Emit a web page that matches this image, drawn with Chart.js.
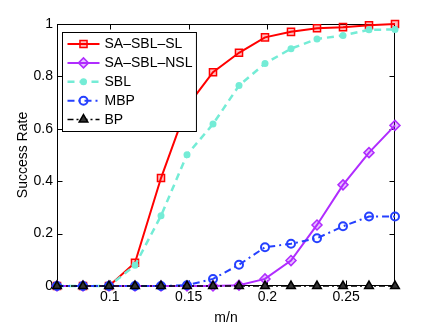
<!DOCTYPE html>
<html>
<head>
<meta charset="utf-8">
<script src="https://cdn.jsdelivr.net/npm/chart.js@4.4.0/dist/chart.umd.min.js"></script>
<style>
  html, body { margin: 0; padding: 0; background: #fff; }
  #wrap { width: 436px; height: 327px; }
</style>
</head>
<body>
<div id="wrap"><canvas id="chart" width="436" height="327"></canvas></div>
<script>
// m/n sample points
const mOverN = [0.0665, 0.083, 0.0995, 0.116, 0.1325, 0.149, 0.1655, 0.182, 0.1985, 0.215, 0.2315, 0.248, 0.2645, 0.281];

// success rates per method
const saSblSl  = [0, 0, 0, 0.089, 0.412, 0.685, 0.816, 0.890, 0.949, 0.970, 0.984, 0.988, 0.995, 1.0];
const saSblNsl = [0, 0, 0, 0, 0, 0, 0, 0.003, 0.027, 0.097, 0.233, 0.386, 0.509, 0.613];
const sbl      = [0, 0, 0, 0.079, 0.268, 0.501, 0.618, 0.765, 0.849, 0.906, 0.943, 0.956, 0.978, 0.979];
const mbp      = [0, 0, 0, 0, 0, 0.003, 0.027, 0.081, 0.148, 0.161, 0.182, 0.228, 0.265, 0.265];
const bp       = [0, 0, 0, 0, 0, 0, 0, 0, 0, 0, 0, 0, 0, 0];

const seriesNames = ['SA\u2013SBL\u2013SL', 'SA\u2013SBL\u2013NSL', 'SBL', 'MBP', 'BP'];

// axis ticks
const xTicks = [0.1, 0.15, 0.2, 0.25];
const yTicks = [0, 0.2, 0.4, 0.6, 0.8, 1];
const xMin = 0.0665, xMax = 0.281;

const FONT = 'Liberation Sans, Arial, Helvetica, sans-serif';

function toPoints(ys) {
    return ys.map((y, i) => ({ x: mOverN[i], y: y }));
}

// MATLAB-like box, inward ticks and legend
const matlabAxes = {
    id: 'matlabAxes',
    beforeDatasetsDraw(chart) {
        const { ctx, chartArea: a, scales } = chart;
        const L = Math.round(a.left) + 0.5, R = Math.round(a.right) - 0.5;
        const T = Math.round(a.top) + 0.5, B = Math.round(a.bottom) - 0.5;
        ctx.save();
        ctx.strokeStyle = '#000';
        ctx.lineWidth = 1;
        ctx.strokeRect(L, T, R - L, B - T);
        ctx.beginPath();
        xTicks.forEach(v => {
            const px = Math.round(scales.x.getPixelForValue(v)) + 0.5;
            ctx.moveTo(px, T); ctx.lineTo(px, T + 5);
            ctx.moveTo(px, B); ctx.lineTo(px, B - 5);
        });
        yTicks.forEach(v => {
            const py = Math.round(scales.y.getPixelForValue(v)) + 0.5;
            ctx.moveTo(L, py); ctx.lineTo(L + 5, py);
            ctx.moveTo(R, py); ctx.lineTo(R - 5, py);
        });
        ctx.stroke();
        ctx.restore();
    },
    afterDatasetsDraw(chart) {
        const { ctx, chartArea: a } = chart;
        const sets = chart.data.datasets;
        ctx.save();
        ctx.font = '14px ' + FONT;
        let maxW = 0;
        sets.forEach(ds => { maxW = Math.max(maxW, ctx.measureText(ds.label).width); });
        const lx = Math.round(a.left) + 5.5;
        const ly = Math.round(a.top) + 8.5;
        const w = 42 + maxW + 4;
        const h = 99;
        ctx.fillStyle = '#fff';
        ctx.fillRect(lx, ly, w, h);
        ctx.strokeStyle = '#000';
        ctx.lineWidth = 1;
        ctx.strokeRect(lx, ly, w, h);

        sets.forEach((ds, i) => {
            const y = ly + 11.5 + i * 18.9;
            ctx.strokeStyle = ds.borderColor;
            ctx.lineWidth = ds.borderWidth;
            ctx.setLineDash(ds.borderDash || []);
            ctx.beginPath();
            ctx.moveTo(lx + 5, y);
            ctx.lineTo(lx + 37, y);
            ctx.stroke();
            ctx.setLineDash([]);
            ctx.fillStyle = ds.pointBackgroundColor;
            ctx.strokeStyle = ds.pointBorderColor;
            ctx.lineWidth = ds.pointBorderWidth;
            Chart.helpers.drawPoint(ctx, {
                pointStyle: ds.pointStyle,
                radius: ds.pointRadius,
                rotation: 0,
                borderWidth: ds.pointBorderWidth
            }, lx + 21, y);
            ctx.fillStyle = '#000';
            ctx.textBaseline = 'middle';
            ctx.textAlign = 'left';
            ctx.fillText(ds.label, lx + 42, y + 0.5);
        });
        ctx.restore();
    }
};

const datasets = [
    {
        label: seriesNames[0], data: toPoints(saSblSl), order: 5,
        borderColor: '#ff0000', borderWidth: 2,
        pointStyle: 'rect', pointRadius: 5,
        pointBackgroundColor: 'rgba(255,0,0,0.25)', pointBorderColor: '#ff0000', pointBorderWidth: 1.5
    },
    {
        label: seriesNames[1], data: toPoints(saSblNsl), order: 4,
        borderColor: '#b02cff', borderWidth: 2,
        pointStyle: 'rectRot', pointRadius: 5,
        pointBackgroundColor: 'rgba(176,44,255,0.3)', pointBorderColor: '#b02cff', pointBorderWidth: 1.5
    },
    {
        label: seriesNames[2], data: toPoints(sbl), order: 3,
        borderColor: '#74ecd6', borderWidth: 2.5, borderDash: [7, 5],
        pointStyle: 'circle', pointRadius: 3.5,
        pointBackgroundColor: '#74ecd6', pointBorderColor: '#74ecd6', pointBorderWidth: 0
    },
    {
        label: seriesNames[3], data: toPoints(mbp), order: 2,
        borderColor: '#2540ff', borderWidth: 2, borderDash: [7, 4, 2, 4],
        pointStyle: 'circle', pointRadius: 4,
        pointBackgroundColor: 'rgba(0,0,0,0)', pointBorderColor: '#2540ff', pointBorderWidth: 2
    },
    {
        label: seriesNames[4], data: toPoints(bp), order: 1,
        borderColor: '#000000', borderWidth: 1.5, borderDash: [6, 3, 2, 3],
        pointStyle: 'triangle', pointRadius: 5,
        pointBackgroundColor: '#333333', pointBorderColor: '#000000', pointBorderWidth: 1.5
    }
];
datasets.forEach(ds => { ds.tension = 0; ds.clip = false; ds.fill = false; });

new Chart(document.getElementById('chart').getContext('2d'), {
    type: 'line',
    data: { datasets: datasets },
    plugins: [matlabAxes],
    options: {
        responsive: false,
        animation: false,
        devicePixelRatio: 1,
        layout: { padding: { top: 24, right: 41, left: 0, bottom: 0 } },
        plugins: { legend: { display: false }, tooltip: { enabled: false } },
        scales: {
            x: {
                type: 'linear', min: xMin, max: xMax,
                afterBuildTicks: s => { s.ticks = xTicks.map(v => ({ value: v })); },
                afterFit: s => { s.height = 41; },
                grid: { display: false, drawTicks: false },
                border: { display: false },
                ticks: {
                    padding: 3, color: '#000', font: { family: FONT, size: 14 },
                    maxRotation: 0, autoSkip: false,
                    callback: v => String(v)
                },
                title: {
                    display: true, text: 'm/n', color: '#000',
                    font: { family: FONT, size: 14 }, padding: { top: 1, bottom: 0 }
                }
            },
            y: {
                min: 0, max: 1,
                afterBuildTicks: s => { s.ticks = yTicks.map(v => ({ value: v })); },
                afterFit: s => { s.width = 57; },
                grid: { display: false, drawTicks: false },
                border: { display: false },
                ticks: {
                    padding: 4, color: '#000', font: { family: FONT, size: 14 },
                    autoSkip: false,
                    callback: v => String(v)
                },
                title: {
                    display: true, text: 'Success Rate', color: '#000',
                    font: { family: FONT, size: 14 }, padding: { top: 15, bottom: 0 }
                }
            }
        }
    }
});
</script>
</body>
</html>
